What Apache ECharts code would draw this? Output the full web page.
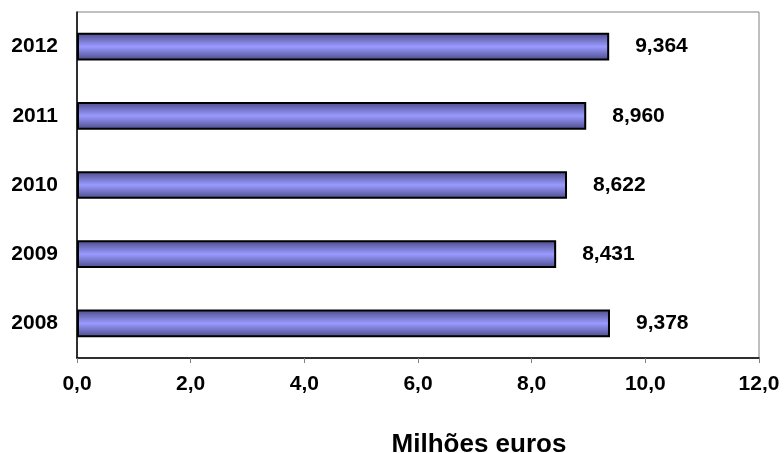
<!DOCTYPE html>
<html><head><meta charset="utf-8">
<script src="https://cdn.jsdelivr.net/npm/echarts@6/dist/echarts.min.js"></script>
<style>html,body{margin:0;padding:0;background:#fff}#c{width:784px;height:453px}</style>
</head><body><div id="c"></div>
<script>
var categories = ['2008', '2009', '2010', '2011', '2012'];
var values = [9.378, 8.431, 8.622, 8.960, 9.364];
var xTicks = [0, 2, 4, 6, 8, 10, 12];
var axisTitle = 'Milhões euros';

var chart = echarts.init(document.getElementById('c'));
var F = '"Liberation Sans", Arial, sans-serif';
chart.setOption({
  animation: false,
  grid: { left: 77, right: 25, top: 12, bottom: 95, show: true, borderColor: '#808080', borderWidth: 1, backgroundColor: '#fff' },
  title: { text: axisTitle, left: 474, top: 427, textAlign: 'center',
    textStyle: { fontFamily: F, fontSize: 26, fontWeight: 'bold', color: '#000' } },
  xAxis: {
    type: 'value', min: xTicks[0], max: xTicks[xTicks.length - 1], interval: 2,
    axisLine: { show: true, lineStyle: { color: '#000', width: 1.5 } },
    axisTick: { show: true, length: 5, lineStyle: { color: '#808080' } },
    splitLine: { show: false },
    axisLabel: { fontFamily: F, fontSize: 21, fontWeight: 'bold', color: '#000', margin: 16,
      formatter: function (v) { return v.toFixed(1).replace('.', ','); } }
  },
  yAxis: {
    type: 'category', data: categories,
    axisLine: { show: true, lineStyle: { color: '#000', width: 1.5 } },
    axisTick: { show: false },
    axisLabel: { fontFamily: F, fontSize: 21, fontWeight: 'bold', color: '#000', margin: 19 }
  },
  series: [{
    type: 'bar', data: values, barWidth: '40%',
    itemStyle: {
      borderColor: '#000', borderWidth: 2,
      color: new echarts.graphic.LinearGradient(0, 0, 0, 1, [
        { offset: 0, color: '#4a4a88' },
        { offset: 0.5, color: '#9a9aff' },
        { offset: 1, color: '#4a4a88' }
      ])
    },
    label: { show: true, position: 'right', distance: 26, fontFamily: F, fontSize: 21, fontWeight: 'bold', color: '#000',
      formatter: function (p) { return p.value.toFixed(3).replace('.', ','); } }
  }]
});
</script></body></html>
